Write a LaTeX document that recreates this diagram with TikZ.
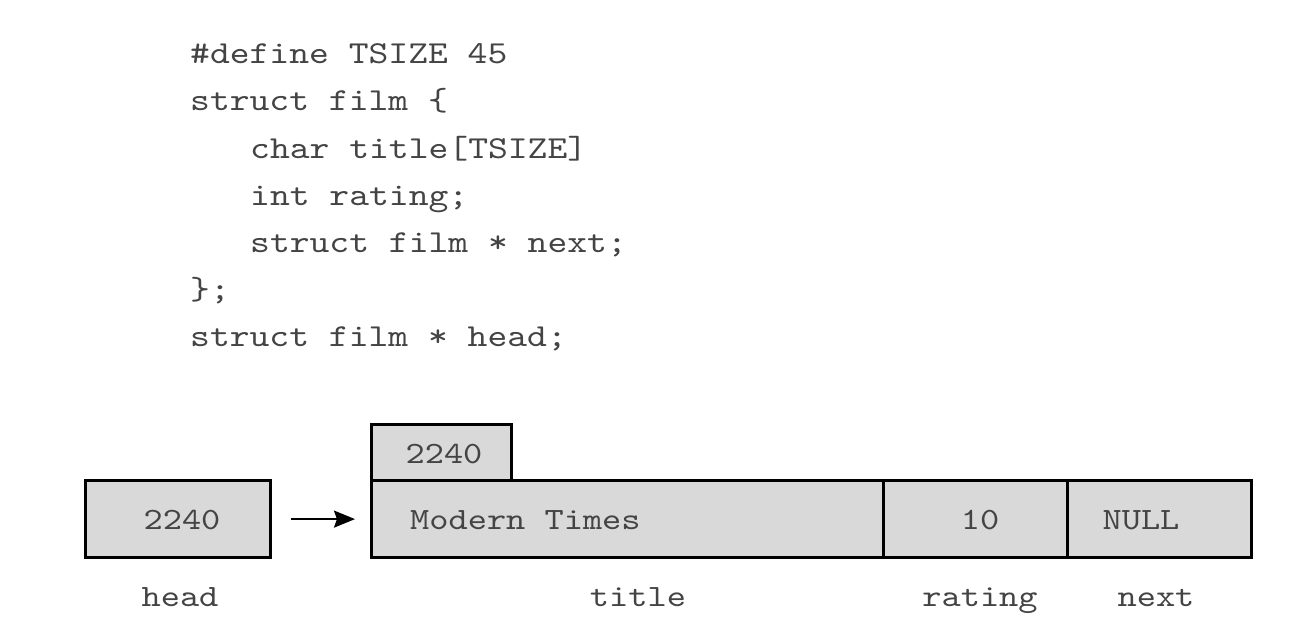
\documentclass[tikz,border=0pt]{standalone}
\usepackage{fontspec}
\setmonofont{lmmono10-regular.otf}[FakeStretch=1.18]
\usetikzlibrary{arrows.meta}
\definecolor{boxfill}{HTML}{D9D9D9}
\definecolor{txt}{HTML}{444444}
\tikzset{
  code/.style={anchor=base west, inner sep=0pt, text=txt, font=\ttfamily\fontsize{32}{40}\selectfont},
  lbl/.style={anchor=base, inner sep=0pt, text=txt, font=\ttfamily\fontsize{31}{38}\selectfont},
  lblw/.style={anchor=base west, inner sep=0pt, text=txt, font=\ttfamily\fontsize{31}{38}\selectfont},
  cell/.style={draw=black, fill=boxfill, line width=3.2pt, inner sep=0pt, anchor=north west}
}
\begin{document}
\begin{tikzpicture}[x=1pt,y=-1pt]
\useasboundingbox (0,0) rectangle (1310,641);
% code
\node[code] (c1) at (190,63) {\#define TSIZE 45};
\node[code] (c2) at (190,110) {struct film \{};
\node[code] (c3) at (250,158) {char title[TSIZE]};
\node[code] (c4) at (250,205) {int rating;};
\node[code] (c5) at (250,252) {struct film * next;};
\node[code] (c6) at (190,299) {\};};
\node[code] (c7) at (190,346) {struct film * head;};
% boxes
\node[cell, minimum width=185pt, minimum height=77pt] (head) at (84,479) {};
\node[cell, minimum width=140pt, minimum height=56pt] (addr) at (370,423) {};
\node[cell, minimum width=512pt, minimum height=77pt] (title) at (370,479) {};
\node[cell, minimum width=184pt, minimum height=77pt] (rating) at (882,479) {};
\node[cell, minimum width=184pt, minimum height=77pt] (next) at (1066,479) {};
% box texts
\node[lbl] (headv) at (182,529) {2240};
\node[lbl] (addrv) at (444,463) {2240};
\node[lblw] (titlev) at (410,529) {Modern Times};
\node[lbl] (ratingv) at (980,529) {10};
\node[lbl] (nextv) at (1141,529) {NULL};
% labels
\node[lbl] (headl) at (180,606) {head};
\node[lbl] (titlel) at (638,606) {title};
\node[lbl] (ratingl) at (980,606) {rating};
\node[lbl] (nextl) at (1156,606) {next};
% arrow
\draw[line width=2.2pt, -{Stealth[length=21pt,width=17pt,inset=3pt]}, shorten <=19pt, shorten >=15pt] (head.east) -- (title.west);
\end{tikzpicture}
\end{document}
